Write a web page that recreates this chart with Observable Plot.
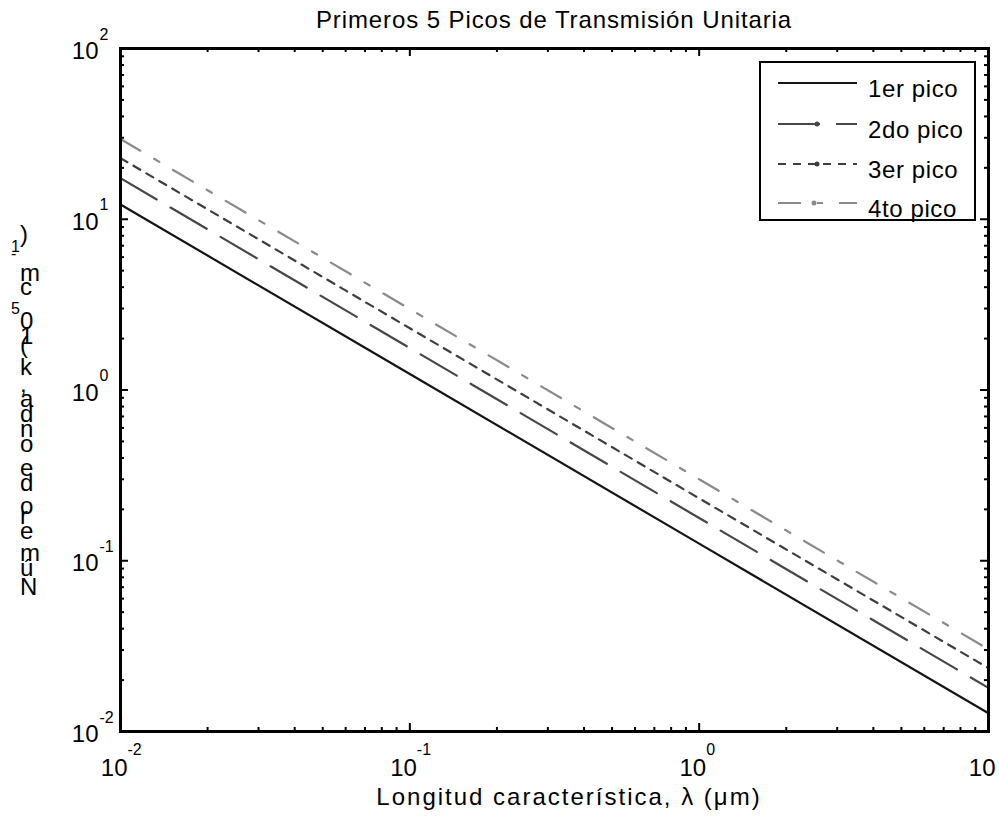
<!DOCTYPE html>
<html>
<head>
<meta charset="utf-8">
<script src="https://cdn.jsdelivr.net/npm/d3@7"></script>
<script src="https://cdn.jsdelivr.net/npm/@observablehq/plot@0.6"></script>
<style>
html, body { margin: 0; padding: 0; background: #fff; }
#wrap { position: relative; width: 999px; height: 819px; overflow: hidden; }
</style>
</head>
<body>
<div id="wrap"></div>
<script>
// ---- data ----
const lambda = [0.01, 0.1, 1, 10];            // Longitud característica (µm)
const pico1  = [12.2, 1.24, 0.126, 0.0128];   // 1er pico
const pico2  = [17.4, 1.76, 0.178, 0.0180];   // 2do pico
const pico3  = [22.8, 2.30, 0.232, 0.0235];   // 3er pico
const pico4  = [29.5, 2.98, 0.300, 0.0303];   // 4to pico
const seriesNames = ["1er pico", "2do pico", "3er pico", "4to pico"];

const xDomain = [0.01, 10];
const yDomain = [0.01, 100];
const xMajor = [0.01, 0.1, 1, 10];
const xExp   = ["-2", "-1", "0", ""];          // the last exponent falls outside the picture
const yMajor = [0.01, 0.1, 1, 10, 100];
const yExp   = ["-2", "-1", "0", "1", "2"];

const titleText = "Primeros 5 Picos de Transmisión Unitaria";
const xLabelText = "Longitud característica, λ (μm)";

// ---- styles ----
const seriesValues = [pico1, pico2, pico3, pico4];
const colors = ["#151515", "#474747", "#3e3e3e", "#8a8a8a"];
const dashes = [null, "42,16", "8,7", "23,16,6,16"];
const FONT = '"Liberation Sans", Arial, sans-serif';

const minorOf = (majors) => majors.slice(0, -1).flatMap(m => d3.range(2, 10).map(k => k * m));
const xMinor = minorOf(xMajor);
const yMinor = minorOf(yMajor);

const tables = seriesValues.map((vals, s) => lambda.map((l, i) => ({lambda: l, k: vals[i], serie: seriesNames[s]})));

const W = 999, H = 819;
const mL = 120, mR = 11, mT = 48, mB = 88;

const lineMarks = tables.map((t, s) => Plot.line(t, {
  x: "lambda", y: "k", stroke: colors[s], strokeWidth: 2.2,
  strokeDasharray: dashes[s] || undefined
}));

const tickW = 2;
const tickMarks = [
  Plot.ruleX(xMajor, {x: d => d, y1: yDomain[0], y2: yDomain[0], insetBottom: 8, strokeWidth: tickW}),
  Plot.ruleX(xMajor, {x: d => d, y1: yDomain[1], y2: yDomain[1], insetBottom: -8, strokeWidth: tickW}),
  Plot.ruleY(yMajor, {y: d => d, x1: xDomain[0], x2: xDomain[0], insetRight: -8, strokeWidth: tickW}),
  Plot.ruleY(yMajor, {y: d => d, x1: xDomain[1], x2: xDomain[1], insetRight: 8, strokeWidth: tickW}),
  Plot.ruleX(xMinor, {x: d => d, y1: yDomain[0], y2: yDomain[0], insetBottom: 4, strokeWidth: tickW}),
  Plot.ruleX(xMinor, {x: d => d, y1: yDomain[1], y2: yDomain[1], insetBottom: -4, strokeWidth: tickW}),
  Plot.ruleY(yMinor, {y: d => d, x1: xDomain[0], x2: xDomain[0], insetRight: -4, strokeWidth: tickW}),
  Plot.ruleY(yMinor, {y: d => d, x1: xDomain[1], x2: xDomain[1], insetRight: 4, strokeWidth: tickW})
];

const labelMarks = [
  Plot.text(xMajor, {x: d => d, y: yDomain[0], text: () => "10", textAnchor: "end", dx: 7, dy: 37, fontSize: 24, fill: "#000"}),
  Plot.text(xMajor, {x: d => d, y: yDomain[0], text: (d, i) => xExp[i], textAnchor: "start", dx: 7, dy: 18, fontSize: 16, fill: "#000"}),
  Plot.text(yMajor, {x: xDomain[0], y: d => d, text: () => "10", textAnchor: "end", dx: -22, dy: 3, fontSize: 24, fill: "#000"}),
  Plot.text(yMajor, {x: xDomain[0], y: d => d, text: (d, i) => yExp[i], textAnchor: "start", dx: -21, dy: -14, fontSize: 16, fill: "#000"})
];

const svg = Plot.plot({
  width: W, height: H,
  marginLeft: mL, marginRight: mR, marginTop: mT, marginBottom: mB,
  style: {background: "#fff", fontFamily: FONT, color: "#000", overflow: "visible"},
  x: {type: "log", domain: xDomain, axis: null},
  y: {type: "log", domain: yDomain, axis: null},
  marks: [
    ...lineMarks,
    ...tickMarks,
    Plot.frame({stroke: "#000", strokeWidth: 3}),
    ...labelMarks
  ]
});
document.getElementById("wrap").appendChild(svg);

const S = d3.select(svg);
const cx = (mL + W - mR) / 2;

// title
S.append("text")
  .attr("x", cx).attr("y", 28)
  .attr("text-anchor", "middle")
  .style("font-family", FONT).style("font-size", "24px").style("letter-spacing", "0.9px")
  .attr("fill", "#000")
  .text(titleText);

// x label
S.append("text")
  .attr("x", cx + 15).attr("y", 805)
  .attr("text-anchor", "middle")
  .style("font-family", FONT).style("font-size", "24px").style("letter-spacing", "2px")
  .attr("fill", "#000")
  .text(xLabelText);

// y label (glyphs upright, stacked bottom to top, as in the reference)
const yl = S.append("text")
  .attr("transform", "translate(20,595) rotate(-90)")
  .attr("rotate", "90")
  .attr("text-anchor", "start")
  .style("font-family", FONT).style("font-size", "24px").style("letter-spacing", "1.7px")
  .attr("fill", "#000");
yl.append("tspan").text("Número de onda, k (10");
yl.append("tspan").attr("dy", -9).style("font-size", "16px").text("5");
yl.append("tspan").attr("dy", 9).text(" cm");
yl.append("tspan").attr("dy", -9).style("font-size", "16px").text("-1");
yl.append("tspan").attr("dy", 9).text(")");

// legend
const lg = S.append("g").attr("text-anchor", "start");
lg.append("rect").attr("x", 760).attr("y", 62).attr("width", 215).attr("height", 158)
  .attr("fill", "#fff").attr("stroke", "#000").attr("stroke-width", 2);
const rowY = [83, 124, 164, 203];
seriesNames.forEach((name, s) => {
  const y = rowY[s];
  const ln = lg.append("line").attr("x1", 778).attr("x2", 857).attr("y1", y).attr("y2", y)
    .attr("stroke", colors[s]).attr("stroke-width", 2.2);
  if (dashes[s]) ln.attr("stroke-dasharray", dashes[s]);
  if (s > 0) lg.append("circle").attr("cx", s === 3 ? 814 : 817).attr("cy", y).attr("r", 2.5).attr("fill", colors[s]);
  lg.append("text").attr("x", 868).attr("y", y + 14).attr("text-anchor", "start")
    .style("font-family", FONT).style("font-size", "24px").style("letter-spacing", "0.6px")
    .attr("fill", "#000").text(name);
});
</script>
</body>
</html>
